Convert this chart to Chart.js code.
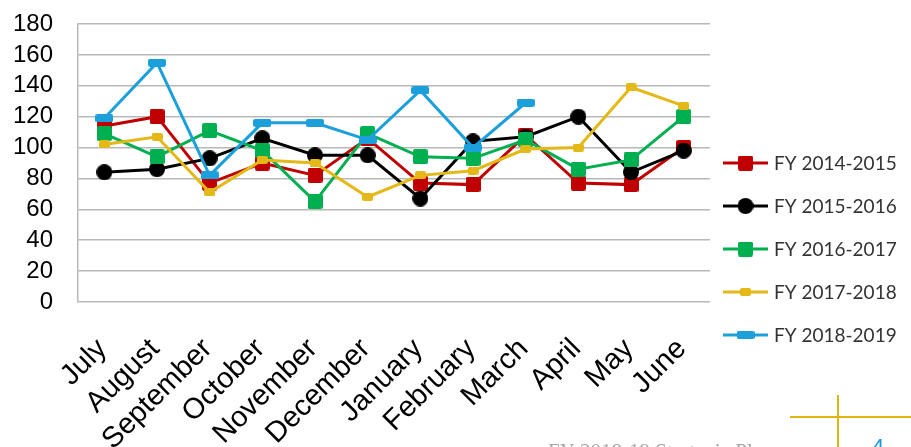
<!DOCTYPE html>
<html>
<head>
<meta charset="utf-8">
<script src="https://cdn.jsdelivr.net/npm/chart.js@4.4.1/dist/chart.umd.min.js"></script>
<style>
  html, body { margin: 0; padding: 0; background: #fff; overflow: hidden; }
  canvas { display: block; }
</style>
</head>
<body>
<canvas id="chart" width="911" height="447"></canvas>
<script>
// Monthly values per fiscal year (July through June)
const months = ['July', 'August', 'September', 'October', 'November', 'December',
                'January', 'February', 'March', 'April', 'May', 'June'];
const fy2014_2015 = [114, 120, 77, 90, 82, 106, 77, 76, 108, 77, 76, 100];
const fy2015_2016 = [84, 86, 93, 106, 95, 95, 67, 104, 107, 120, 84, 98];
const fy2016_2017 = [109, 94, 111, 98, 65, 109, 94, 93, 105, 86, 92, 120];
const fy2017_2018 = [102, 107, 71, 92, 90, 68, 82, 85, 99, 100, 139, 127];
const fy2018_2019 = [119, 155, 82, 116, 116, 105, 137, 100, 129, null, null, null];
const seriesNames = ['FY 2014-2015', 'FY 2015-2016', 'FY 2016-2017', 'FY 2017-2018', 'FY 2018-2019'];
const yMin = 0, yMax = 180, yStep = 20;

// Marker sprites: squares, circle and flat dashes
function makeMarker(shape, w, h, color) {
  const c = document.createElement('canvas');
  c.width = w; c.height = h;
  const g = c.getContext('2d');
  g.fillStyle = color;
  g.beginPath();
  if (shape === 'circle') {
    g.arc(w / 2, h / 2, w / 2, 0, Math.PI * 2);
  } else {
    g.roundRect(0, 0, w, h, 2);
  }
  g.fill();
  return c;
}

const palette = ['#C00000', '#000000', '#00B050', '#E4B817', '#1CA0DC'];
const markers = [
  makeMarker('rect', 15, 15, palette[0]),
  makeMarker('circle', 16, 16, palette[1]),
  makeMarker('rect', 15, 15, palette[2]),
  makeMarker('rect', 11, 8, palette[3]),
  makeMarker('rect', 18, 8, palette[4])
];
const seriesValues = [fy2014_2015, fy2015_2016, fy2016_2017, fy2017_2018, fy2018_2019];

const datasets = seriesValues.map((vals, i) => ({
  label: seriesNames[i],
  data: vals,
  borderColor: palette[i],
  backgroundColor: palette[i],
  borderWidth: 3,
  pointStyle: markers[i],
  pointRadius: 6,
  pointHoverRadius: 6,
  tension: 0,
  fill: false,
  order: seriesValues.length - i
}));

// Legend on the right: a short line with the series marker, then the name
const seriesKey = {
  id: 'seriesKey',
  afterDraw(chart) {
    const ctx = chart.ctx;
    const x0 = 723, x1 = 768, textX = 774, y0 = 163, step = 43;
    ctx.save();
    chart.data.datasets.forEach((ds, i) => {
      const y = y0 + i * step;
      ctx.strokeStyle = ds.borderColor;
      ctx.lineWidth = 3;
      ctx.beginPath();
      ctx.moveTo(x0, y);
      ctx.lineTo(x1, y);
      ctx.stroke();
      const m = ds.pointStyle;
      ctx.drawImage(m, (x0 + x1) / 2 - m.width / 2, y - m.height / 2);
      ctx.fillStyle = '#333333';
      ctx.font = '19px Lato';
      ctx.textBaseline = 'middle';
      ctx.textAlign = 'left';
      ctx.fillText(ds.label, textX, y + 1);
    });
    ctx.restore();
  }
};

// Page furniture at the bottom: footer title, gold corner rule, page number
const pageFooter = {
  id: 'pageFooter',
  afterDraw(chart) {
    const ctx = chart.ctx;
    ctx.save();
    ctx.strokeStyle = '#E2B412';
    ctx.lineWidth = 2;
    ctx.beginPath();
    ctx.moveTo(790, 417); ctx.lineTo(911, 417);
    ctx.moveTo(838, 395); ctx.lineTo(838, 447);
    ctx.stroke();
    ctx.textBaseline = 'top';
    ctx.textAlign = 'left';
    ctx.fillStyle = '#A6A6A6';
    ctx.font = '21px "Liberation Serif"';
    ctx.fillText('FY 2018-19 Strategic Plan', 548, 442);
    ctx.fillStyle = '#1A9BD7';
    ctx.font = '22px "Liberation Sans"';
    ctx.fillText('4', 872, 437);
    ctx.restore();
  }
};

const gridGray = '#B8B8B8';

new Chart(document.getElementById('chart'), {
  type: 'line',
  data: { labels: months, datasets },
  options: {
    responsive: false,
    animation: false,
    devicePixelRatio: 1,
    layout: { padding: { left: 13, top: 24, right: 201, bottom: 0 } },
    plugins: { legend: { display: false }, tooltip: { enabled: false } },
    scales: {
      x: {
        offset: true,
        grid: { display: false, drawTicks: false },
        border: { display: false },
        ticks: {
          autoSkip: false,
          minRotation: 45,
          maxRotation: 45,
          padding: 30,
          labelOffset: -2,
          color: '#000',
          font: { family: '"Liberation Sans", Arial, sans-serif', size: 29 }
        },
        afterFit(scale) {
          // month labels run off the bottom edge; keep the plot height fixed
          scale.height = 145;
          scale.paddingLeft = 0;
          scale.paddingRight = 0;
        }
      },
      y: {
        min: yMin,
        max: yMax,
        grid: { color: gridGray, lineWidth: 1.5, drawTicks: false },
        border: { display: true, color: gridGray, width: 1.5 },
        ticks: {
          autoSkip: false,
          stepSize: yStep,
          padding: 25,
          color: '#000',
          font: { family: '"Liberation Sans", Arial, sans-serif', size: 24 }
        },
        afterFit(scale) {
          scale.width = 65;
          scale.paddingTop = 0;
          scale.paddingBottom = 0;
        }
      }
    }
  },
  plugins: [seriesKey, pageFooter]
});
</script>
</body>
</html>
